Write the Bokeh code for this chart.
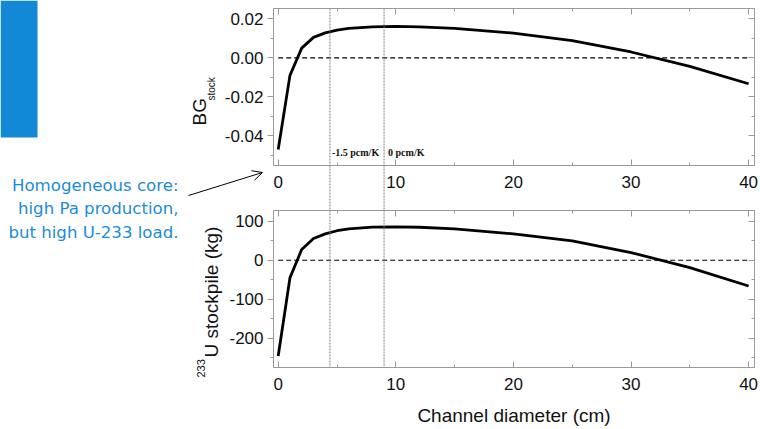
import math

from bokeh.embed import file_html
from bokeh.layouts import column
from bokeh.models import (Arrow, BoxAnnotation, CustomJSTickFormatter, FixedTicker, GridBox,
                          Label, LinearAxis, NumeralTickFormatter, OpenHead, Range1d, Span)
from bokeh.plotting import figure
from bokeh.resources import INLINE

# ---- data -------------------------------------------------------------
diameter_cm = [0, 1, 2, 3, 4, 5, 6, 8, 10, 12, 15, 20, 25, 30, 35, 40]
bg_stock = [-0.047, -0.009, 0.005, 0.0105, 0.0128, 0.0142, 0.0151, 0.0159,
            0.0161, 0.0159, 0.0151, 0.0127, 0.0088, 0.0030, -0.0044, -0.0133]
u233_stockpile_kg = [-246, -45, 28, 56, 68, 76, 81, 85.5,
                     86, 85, 81, 68, 50, 20, -19, -66]

# channel diameters where the temperature coefficient takes these values
coef_diameter_cm = [4.4, 9.0]
coef_labels = ["-1.5 pcm/K", "0 pcm/K"]
coef_label_offsets = [2, 4]

x_ticks = [0, 10, 20, 30, 40]
x_minor = [5, 15, 25, 35]
bg_ticks = [-0.04, -0.02, 0.0, 0.02]
bg_minor = [-0.05, -0.03, -0.01, 0.01]
u_ticks = [-200, -100, 0, 100]
u_minor = [-250, -150, -50, 50]

note_lines = ["Homogeneous core:", "high Pa production,", "but high U-233 load."]

# ---- page geometry and style -----------------------------------------
PAGE_W, PAGE_H = 760, 429
FRAME_L, FRAME_R = 273, 6
FRAME_W = PAGE_W - FRAME_L - FRAME_R
TOP_H, TOP_BORDER_T, TOP_BORDER_B = 210, 8, 45
BOT_H, BOT_BORDER_T, BOT_BORDER_B = 219, 0, 62
X_RANGE = (-0.4, 40.5)
BG_RANGE = (-0.0552, 0.0253)
U_RANGE = (-275.5, 128)

FONT = "Liberation Sans"
INK = "#111111"
FRAME_GREY = "#9a9a9a"
GUIDE_GREY = "#808080"
TICK_SIZE = "17px"
TITLE_PX = 19
NOTE_PX = 16.6
NOTE_BLUE = "#1b8cd8"
BLOCK_BLUE = "#1289d6"
BASELINE_NUDGE = 0.33  # em; lifts label text onto the intended baseline


def style_axis(ax, ticker, tick_in, labelled=True):
    ax.ticker = ticker
    ax.axis_line_color = FRAME_GREY
    ax.major_tick_line_color = FRAME_GREY
    ax.minor_tick_line_color = FRAME_GREY
    if tick_in:
        ax.major_tick_in, ax.major_tick_out = 6, 0
        ax.minor_tick_in, ax.minor_tick_out = 3, 0
    else:
        ax.major_tick_in, ax.major_tick_out = 0, 6
        ax.minor_tick_in, ax.minor_tick_out = 0, 3
    if labelled:
        ax.major_label_text_font = FONT
        ax.major_label_text_font_size = TICK_SIZE
        ax.major_label_text_color = INK
    else:
        ax.formatter = CustomJSTickFormatter(code="return ''")
        ax.major_label_text_font_size = "0px"
        ax.major_label_standoff = 0


def make_panel(y_range, y_ticks, y_minor, y_format, height, border_top, border_bottom):
    p = figure(width=PAGE_W, height=height,
               x_range=Range1d(*X_RANGE), y_range=Range1d(*y_range),
               output_backend="svg", toolbar_location=None,
               min_border_left=FRAME_L, min_border_right=FRAME_R,
               min_border_top=border_top, min_border_bottom=border_bottom)
    p.grid.visible = False
    p.outline_line_color = FRAME_GREY
    p.background_fill_color = "white"
    p.border_fill_color = "white"
    xax, yax = p.below[0], p.left[0]
    style_axis(xax, FixedTicker(ticks=x_ticks, minor_ticks=x_minor), tick_in=True)
    style_axis(yax, FixedTicker(ticks=y_ticks, minor_ticks=y_minor), tick_in=False)
    xax.major_label_standoff = 10
    yax.major_label_standoff = 4
    yax.formatter = NumeralTickFormatter(format=y_format)
    # mirrored tick marks on the top and right edges of the frame
    top_ax = LinearAxis()
    style_axis(top_ax, FixedTicker(ticks=x_ticks, minor_ticks=x_minor), tick_in=True, labelled=False)
    right_ax = LinearAxis()
    style_axis(right_ax, FixedTicker(ticks=y_ticks, minor_ticks=y_minor), tick_in=True, labelled=False)
    p.add_layout(top_ax, "above")
    p.add_layout(right_ax, "right")
    # zero reference across the data span
    p.line([diameter_cm[0], diameter_cm[-1]], [0, 0], line_color="black",
           line_width=1.1, line_dash="5 3")
    for xc in coef_diameter_cm:
        p.add_layout(Span(location=xc, dimension="height", line_color=GUIDE_GREY,
                          line_width=1, line_dash="2 1"))
    return p


# ---- upper panel: breeding gain -------------------------------------
top = make_panel(BG_RANGE, bg_ticks, bg_minor, "0.00", TOP_H, TOP_BORDER_T, TOP_BORDER_B)
top.line(diameter_cm, bg_stock, line_color="black", line_width=2.8)
for xc, txt, off in zip(coef_diameter_cm, coef_labels, coef_label_offsets):
    top.add_layout(Label(x=xc, y=BG_RANGE[0], x_offset=off, y_offset=8, text=txt,
                         text_font="Liberation Serif", text_font_style="bold",
                         text_font_size="10px", text_color=INK))

# ---- lower panel: U-233 stockpile -----------------------------------
bottom = make_panel(U_RANGE, u_ticks, u_minor, "0", BOT_H, BOT_BORDER_T, BOT_BORDER_B)
bottom.line(diameter_cm, u233_stockpile_kg, line_color="black", line_width=2.8)
xlab = bottom.below[0]
xlab.axis_label = "Channel diameter (cm)"
xlab.axis_label_text_font = FONT
xlab.axis_label_text_font_size = f"{TITLE_PX}px"
xlab.axis_label_text_font_style = "normal"
xlab.axis_label_text_color = INK
xlab.axis_label_standoff = 12

# ---- transparent overlay in page pixels (y grows downward) ----------
over = figure(width=PAGE_W, height=PAGE_H, x_range=Range1d(0, PAGE_W),
              y_range=Range1d(PAGE_H, 0), output_backend="svg", toolbar_location=None,
              min_border=0, x_axis_location=None, y_axis_location=None,
              outline_line_color=None, background_fill_color=None,
              border_fill_color=None)
over.grid.visible = False

over.add_layout(BoxAnnotation(left=0, right=37, top=0, bottom=137,
                              fill_color=BLOCK_BLUE, fill_alpha=1, line_color=None))
for i, line in enumerate(note_lines):
    over.add_layout(Label(x=178, y=190 + 23.5 * i - BASELINE_NUDGE * NOTE_PX, text=line,
                          text_align="right", text_baseline="alphabetic",
                          text_font="DejaVu Sans", text_font_size=f"{NOTE_PX}px",
                          text_color=NOTE_BLUE))
over.add_layout(Arrow(end=OpenHead(size=10, line_width=1, line_color="black"),
                      x_start=188, y_start=195, x_end=262, y_end=172,
                      line_color="black", line_width=1))

# vertical axis titles with sub/superscripts (x is the baseline position)
for txt, x, y, size in [("BG", 205, 125, TITLE_PX), ("stock", 214, 100, 10),
                        ("U stockpile (kg)", 217, 357, TITLE_PX), ("233", 204, 377, 11)]:
    over.add_layout(Label(x=x - BASELINE_NUDGE * size, y=y, text=txt, angle=math.pi / 2,
                          text_align="left", text_baseline="alphabetic", text_font=FONT,
                          text_font_size=f"{size}px", text_color=INK))

# guide lines continue through the gap between the two panels
gap_x = [FRAME_L + (xc - X_RANGE[0]) / (X_RANGE[1] - X_RANGE[0]) * FRAME_W
         for xc in coef_diameter_cm]
gap_top = TOP_H - TOP_BORDER_B
gap_bottom = TOP_H + BOT_BORDER_T
over.segment(x0=gap_x, y0=[gap_top] * len(gap_x), x1=gap_x, y1=[gap_bottom] * len(gap_x),
             line_color=GUIDE_GREY, line_width=1, line_dash="2 1")

main = column(top, bottom, spacing=0)
page = GridBox(children=[(main, 0, 0), (over, 0, 0)])
open("out.html", "w").write(file_html(page, INLINE))
